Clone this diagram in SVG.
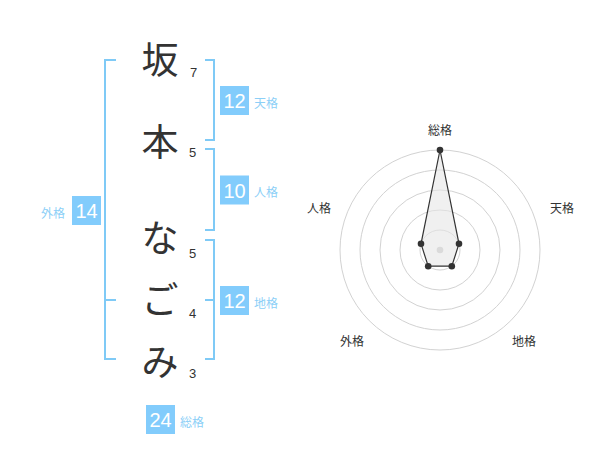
<svg xmlns="http://www.w3.org/2000/svg" width="600" height="470" viewBox="0 0 600 470">
<style>
.big{font-family:"Noto Sans CJK JP","Noto Sans CJK SC",sans-serif;font-size:37px;fill:#333;text-anchor:middle}
.num{font-family:"Liberation Sans",Arial,sans-serif;font-size:13px;fill:#333}
.br{fill:none;stroke:#7fcaf6;stroke-width:2}
.box{fill:#82ccfc}
.bn{font-family:"Liberation Sans",Arial,sans-serif;font-size:20px;fill:#fff;text-anchor:middle}
.bl{font-family:"Noto Sans CJK JP","Noto Sans CJK SC",sans-serif;font-size:12px;fill:#8ccff7}
.ring{fill:none;stroke:#d2d2d2;stroke-width:1}
.ax{font-family:"Noto Sans CJK JP","Noto Sans CJK SC",sans-serif;font-size:12px;fill:#333;text-anchor:middle}
.pt{fill:#333}
</style>
<rect width="600" height="470" fill="#fff"/>
<g id="chars">
<text class="big" x="160" y="73.5">坂</text>
<text class="big" x="160" y="155.5">本</text>
<text class="big" x="160" y="252">な</text>
<text class="big" x="160" y="314">ご</text>
<text class="big" x="160" y="375.5">み</text>
</g>
<g id="strokes">
<text class="num" x="190" y="77">7</text>
<text class="num" x="189" y="157">5</text>
<text class="num" x="189" y="258">5</text>
<text class="num" x="189" y="318">4</text>
<text class="num" x="189" y="378">3</text>
</g>
<g id="connectors">
<path class="br" d="M116,60 H105 V359 H116 M105,300 H116"/>
<path class="br" d="M205,60 H214 V140 H205"/>
<path class="br" d="M205,149 H214 V230 H205"/>
<path class="br" d="M205,240 H214 V359 H205 M205,300 H214"/>
</g>
<g id="tenkaku">
<rect class="box" x="220" y="86" width="29" height="29"/>
<text class="bn" x="234.5" y="108">12</text>
<text class="bl" x="254" y="107.5">天格</text>
</g>
<g id="jinkaku">
<rect class="box" x="220" y="175.5" width="29" height="29"/>
<text class="bn" x="234.5" y="197.5">10</text>
<text class="bl" x="254" y="197">人格</text>
</g>
<g id="chikaku">
<rect class="box" x="220" y="286" width="29" height="29"/>
<text class="bn" x="234.5" y="308">12</text>
<text class="bl" x="254" y="307.5">地格</text>
</g>
<g id="gaikaku">
<rect class="box" x="72" y="196" width="29" height="29"/>
<text class="bn" x="86.5" y="218">14</text>
<text class="bl" x="41" y="217.5">外格</text>
</g>
<g id="soukaku">
<rect class="box" x="146" y="405" width="29" height="29"/>
<text class="bn" x="160.5" y="427">24</text>
<text class="bl" x="180" y="426.5">総格</text>
</g>
<g id="radar">
<circle class="ring" cx="440" cy="250" r="20"/>
<circle class="ring" cx="440" cy="250" r="40"/>
<circle class="ring" cx="440" cy="250" r="60"/>
<circle class="ring" cx="440" cy="250" r="80"/>
<circle class="ring" cx="440" cy="250" r="100"/>
<circle cx="440" cy="250" r="3.3" fill="#c8c8c8"/>
<polygon points="440,150 459,243.8 451.8,266.2 428.2,266.2 421,243.8" fill="#e6e6e6" fill-opacity="0.6" stroke="#333" stroke-width="1.2"/>
<circle class="pt" cx="440" cy="150" r="3.3"/>
<circle class="pt" cx="459" cy="243.8" r="3.3"/>
<circle class="pt" cx="451.8" cy="266.2" r="3.3"/>
<circle class="pt" cx="428.2" cy="266.2" r="3.3"/>
<circle class="pt" cx="421" cy="243.8" r="3.3"/>
<text class="ax" x="440" y="135">総格</text>
<text class="ax" x="562" y="213">天格</text>
<text class="ax" x="319" y="213">人格</text>
<text class="ax" x="352" y="346">外格</text>
<text class="ax" x="524" y="346">地格</text>
</g>
</svg>
